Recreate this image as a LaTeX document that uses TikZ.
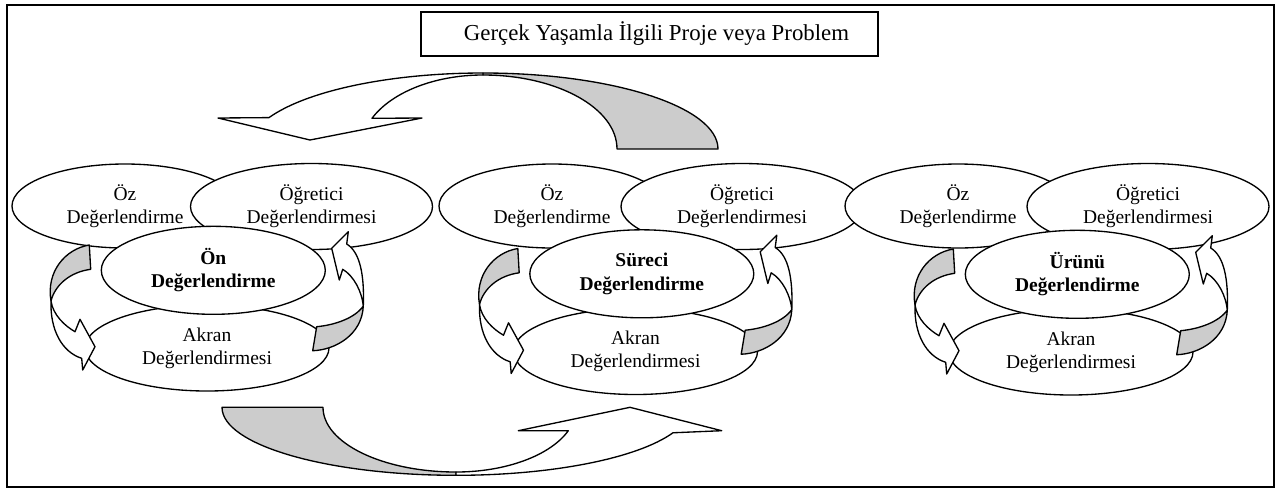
\documentclass[tikz,border=0pt]{standalone}
\usepackage{fontspec}
\setmainfont{Liberation Serif}
\usetikzlibrary{shapes.geometric}
\tikzset{
  bubble/.style={ellipse, draw, line width=0.8pt, fill=white, align=center,
    inner sep=0pt, font=\fontsize{11.7}{14}\selectfont},
  ozbox/.style={bubble, minimum width=135.6pt, minimum height=50.4pt},
  ogrbox/.style={bubble, minimum width=145.2pt, minimum height=51.6pt},
  onbox/.style={bubble, minimum width=134.4pt, minimum height=52.8pt,
    font=\fontsize{11.7}{14}\selectfont\bfseries},
  akbox/.style={bubble, minimum width=146.4pt, minimum height=51.6pt},
  ribbonw/.style={draw, fill=white, line width=0.8pt, line join=round},
  ribbong/.style={draw, fill=gray!40, line width=0.8pt, line join=round},
  titlebox/.style={draw, line width=1pt, minimum width=274.2pt, minimum height=26.4pt,
    inner sep=0pt, font=\fontsize{13.7}{16}\selectfont},
  frame/.style={draw, line width=1.2pt}
}
% #1 suffix, #2 Oz x, #3 Ogretici x, #4 lower shift x, #5 lower shift y, #6 centre word
\newcommand\clusterdraw[6]{%
  \node[ozbox] (oz#1) at (#2,206) {Öz\\Değerlendirme};
  \node[ogrbox] (ogr#1) at (#3,206.5) {Öğretici\\Değerlendirmesi};
  \begin{scope}[shift={(#4,#5)}]
    \node[akbox] (ak#1) at (207,348) {Akran\\Değerlendirmesi};
    \node[onbox] (on#1) at (213.3,270.3) {#6\\Değerlendirme};
    % left ribbon
    \draw[ribbong] (89.3,245) -- (90.7,269.3) .. controls (70,272) and (55,285) .. (51,301)
      .. controls (46,272) and (65,249) .. (89.3,245) -- cycle;
    \draw[ribbonw] (51,301) .. controls (53,315) and (65,326) .. (75,331.7) -- (80,319.3)
      -- (95,346.7) -- (82.7,370) -- (81.7,358.3) .. controls (62,352) and (50,330) .. (51,301) -- cycle;
    % right ribbon
    \draw[ribbonw] (363.3,306) .. controls (362,292) and (354,276) .. (342.7,269.3) -- (339.3,280)
      -- (331.7,248.3) -- (348.3,231.7) -- (346.7,244) .. controls (360,252) and (364.5,275) .. (363.3,306) -- cycle;
    \draw[ribbong] (363.3,306) .. controls (355,318) and (335,325) .. (316.7,326.7) -- (312.7,350.7)
      .. controls (335,350) and (362,335) .. (363.3,306) -- cycle;
  \end{scope}
}
\begin{document}
\begin{tikzpicture}[x=0.6pt, y=-0.6pt]
\useasboundingbox (0,0) rectangle (1279,489);
\fill[white] (0,0) rectangle (1279,489);
\draw[frame] (6.5,5) rectangle (1274,486.5);
\node[titlebox] (title) at (649.5,34) {\hspace*{8.4pt}Gerçek Yaşamla İlgili Proje veya Problem};
% top curved arrow
\draw[ribbong] (483,73) arc[start angle=-90, end angle=0, x radius=235, y radius=76]
  -- (617,149) arc[start angle=0, end angle=-90, x radius=134, y radius=74] -- cycle;
\draw[ribbonw] (483,73) arc[start angle=-90, end angle=-155.6, x radius=235, y radius=76]
  -- (218,118) -- (310,140) -- (422,118) -- (372,118.3)
  arc[start angle=-155.5, end angle=-90, x radius=122, y radius=74] -- cycle;
% bottom curved arrow
\draw[ribbong] (222,407.3) arc[start angle=180, end angle=90, x radius=234, y radius=68]
  -- (456,472) arc[start angle=90, end angle=180, x radius=133, y radius=64.7] -- cycle;
\draw[ribbonw] (456,475.3) arc[start angle=90, end angle=22, x radius=234, y radius=68]
  -- (721.7,430.7) -- (630,407.3) -- (518.3,430.7) -- (568.3,430.7)
  arc[start angle=21.2, end angle=90, x radius=120.5, y radius=64.7] -- cycle;
% clusters
\clusterdraw{a}{125}{311.5}{0}{0}{Ön}
\clusterdraw{b}{552}{742}{428.5}{3.5}{Süreci}
\clusterdraw{c}{958}{1148}{864}{4}{Ürünü}
\end{tikzpicture}
\end{document}
